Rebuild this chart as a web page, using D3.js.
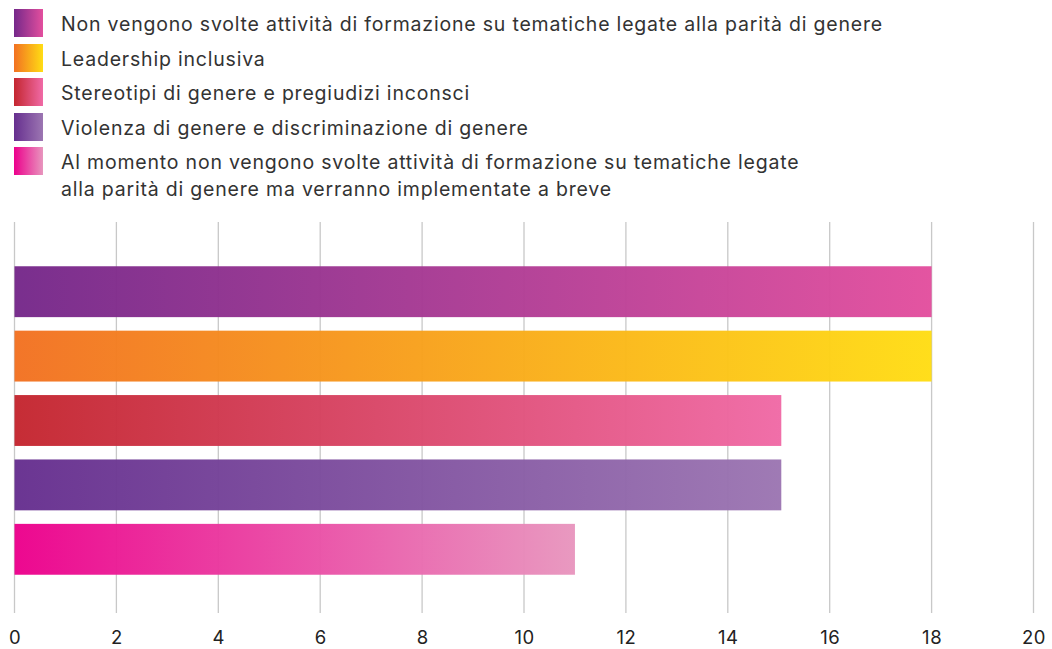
<!DOCTYPE html>
<html><head><meta charset="utf-8">
<script src="https://cdn.jsdelivr.net/npm/d3@7"></script>
<style>body{margin:0;background:#fff}svg{display:block}</style>
</head><body>
<svg id="chart" width="1052" height="649"></svg>
<script>
const categories = [
  "Non vengono svolte attività di formazione su tematiche legate alla parità di genere",
  "Leadership inclusiva",
  "Stereotipi di genere e pregiudizi inconsci",
  "Violenza di genere e discriminazione di genere",
  "Al momento non vengono svolte attività di formazione su tematiche legate\nalla parità di genere ma verranno implementate a breve"
];
const values = [18, 18, 15.05, 15.05, 11];
const gradStart = ["#75288a", "#f27122", "#c4262f", "#662f8f", "#ec008c"];
const gradEnd   = ["#e34f9e", "#ffdd14", "#f06aa6", "#9c76b2", "#e896be"];
const xTicks = [0, 2, 4, 6, 8, 10, 12, 14, 16, 18, 20];

const svg = d3.select("#chart");
const defs = svg.append("defs");
categories.forEach((c, i) => {
  const g = defs.append("linearGradient").attr("id", "g" + i)
    .attr("x1", "0%").attr("x2", "100%").attr("y1", "0%").attr("y2", "0%");
  g.append("stop").attr("offset", "0%").attr("stop-color", gradStart[i]);
  g.append("stop").attr("offset", "100%").attr("stop-color", gradEnd[i]);
});

const font = "Inter, 'Noto Sans', sans-serif";
const x = d3.scaleLinear().domain([0, 20]).range([14.5, 1033.5]);
const y = d3.scaleBand().domain(d3.range(categories.length)).range([259.5, 581.5]).paddingInner(0.21).paddingOuter(0.105);

// grid
const grid = svg.append("g");
grid.selectAll("line").data(xTicks).join("line")
  .attr("x1", d => x(d)).attr("x2", d => x(d))
  .attr("y1", 222).attr("y2", 613)
  .attr("stroke", "#c8c8c8").attr("stroke-width", 1.3);

// bars
svg.append("g").selectAll("rect").data(values).join("rect")
  .attr("x", x(0)).attr("y", (d, i) => y(i))
  .attr("width", d => x(d) - x(0)).attr("height", y.bandwidth())
  .attr("fill", (d, i) => `url(#g${i})`).attr("fill-opacity", 0.97);

// axis labels
const axis = d3.axisBottom(x).tickValues(xTicks).tickSize(0).tickPadding(0);
const ag = svg.append("g").attr("transform", "translate(0,631)").call(axis);
ag.select(".domain").remove();
ag.selectAll("text").attr("font-family", font).attr("font-size", 18.5)
  .attr("letter-spacing", 0.5).attr("fill", "#222");

// legend
const legendY = [9, 44, 78, 113, 147];
const lg = svg.append("g");
categories.forEach((c, i) => {
  lg.append("rect").attr("x", 14).attr("y", legendY[i]).attr("width", 29).attr("height", 28)
    .attr("fill", `url(#g${i})`);
  const t = lg.append("text").attr("x", 61).attr("y", legendY[i] + 22)
    .attr("font-family", font).attr("font-size", 19.5).attr("letter-spacing", 0.8).attr("fill", "#333");
  c.split("\n").forEach((line, j) => {
    t.append("tspan").attr("x", 61).attr("dy", j === 0 ? 0 : 27).text(line);
  });
});
</script>
</body></html>
